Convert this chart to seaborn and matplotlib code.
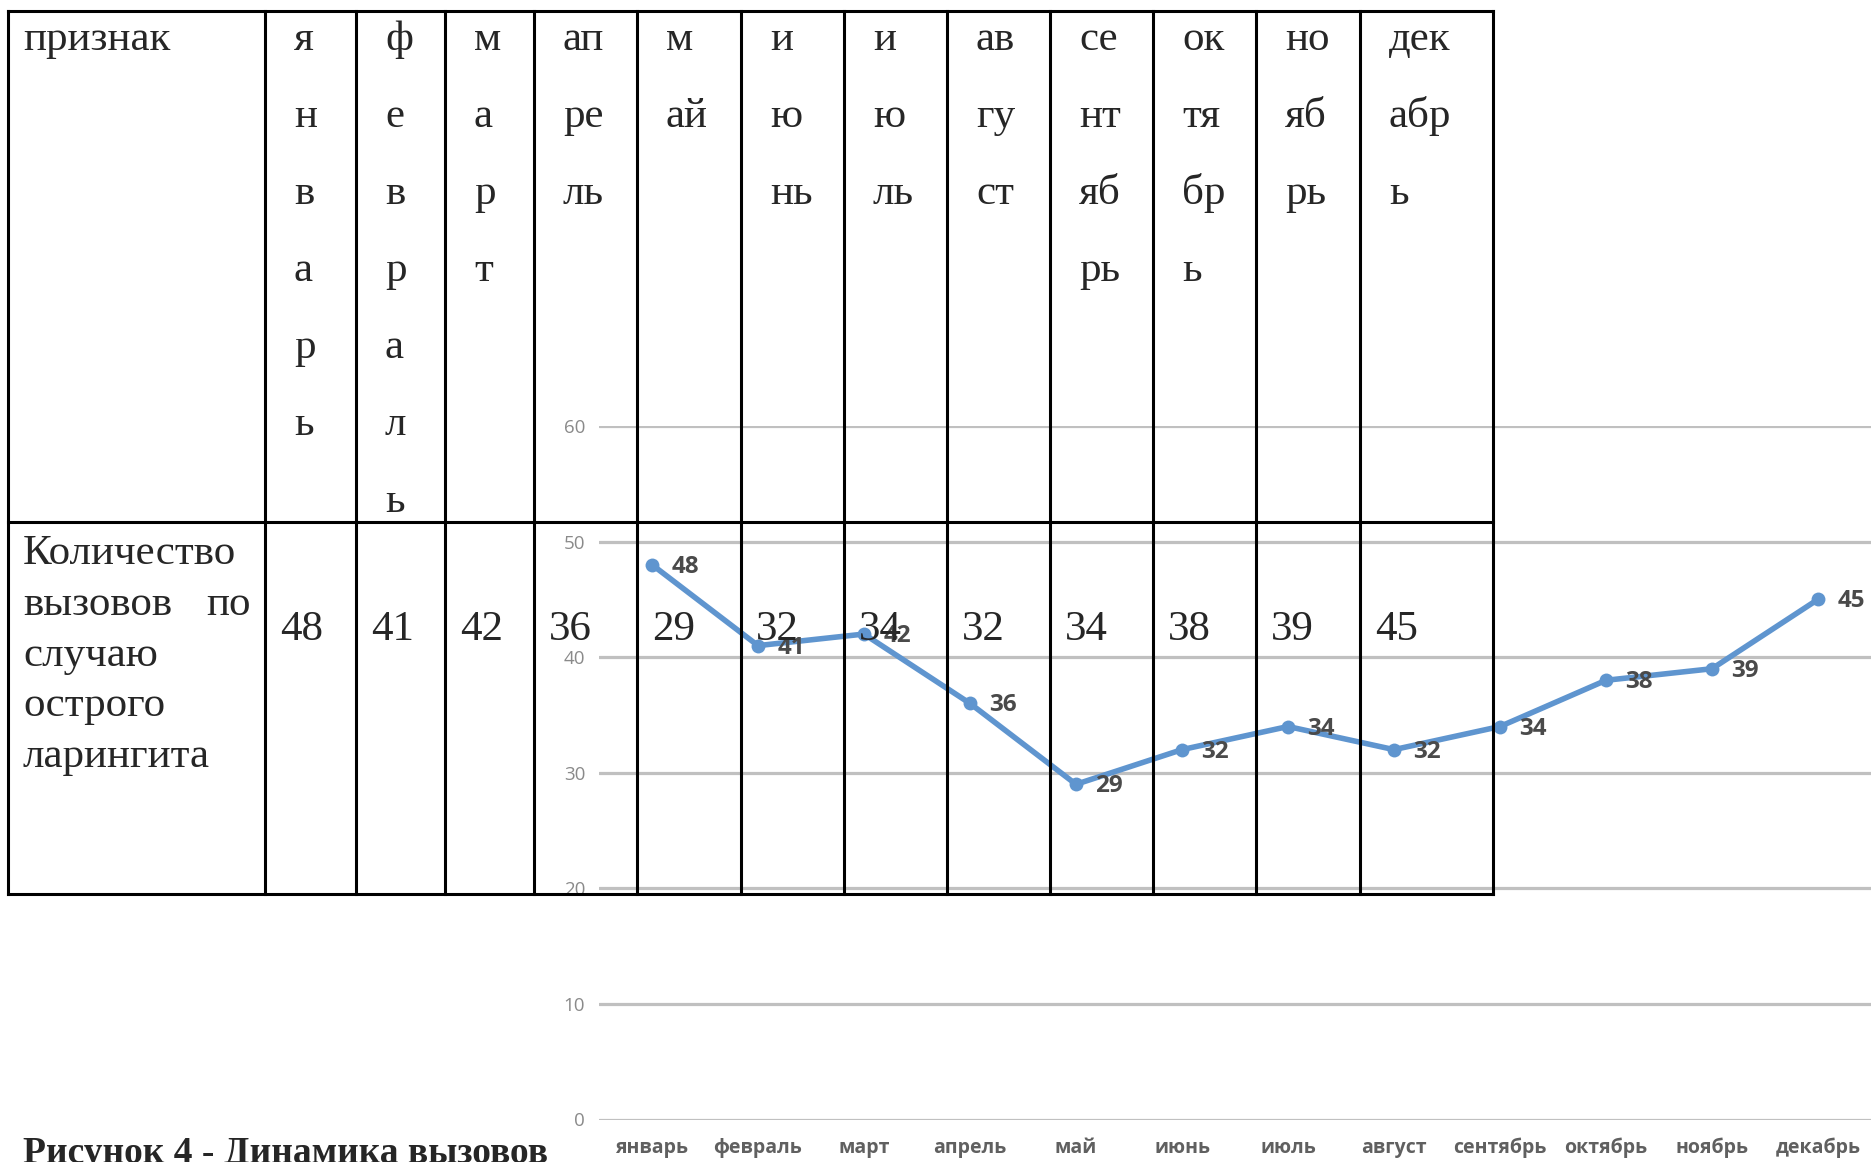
import pandas as pd
import matplotlib.pyplot as plt
import seaborn as sns

# data
months = ['январь', 'февраль', 'март', 'апрель', 'май', 'июнь',
          'июль', 'август', 'сентябрь', 'октябрь', 'ноябрь', 'декабрь']
calls = [48, 41, 42, 36, 29, 32, 34, 32, 34, 38, 39, 45]

# month names as they wrap in the narrow table cells
header_parts = [['я', 'н', 'в', 'а', 'р', 'ь'], ['ф', 'е', 'в', 'р', 'а', 'л', 'ь'],
                ['м', 'а', 'р', 'т'], ['ап', 'ре', 'ль'], ['м', 'ай'], ['и', 'ю', 'нь'],
                ['и', 'ю', 'ль'], ['ав', 'гу', 'ст'], ['се', 'нт', 'яб', 'рь'],
                ['ок', 'тя', 'бр', 'ь'], ['но', 'яб', 'рь'], ['дек', 'абр', 'ь']]
row_label = ['Количество', 'вызовов по', 'случаю', 'острого', 'ларингита']
header_label = 'признак'
caption = 'Рисунок 4 - Динамика вызовов'

df = pd.DataFrame({'month': months, 'calls': calls})

W, H = 1871, 1162
sns.set_style('white')
plt.rcParams['font.family'] = ['Open Sans', 'DejaVu Sans']

fig = plt.figure(figsize=(W / 100, H / 100), dpi=100)

# line chart (Excel style)
ax = fig.add_axes([599 / W, 1 - 1119.5 / H, 1272 / W, (1119.5 - 426) / H])
blue = '#5f95cf'
sns.lineplot(data=df, x='month', y='calls', sort=False, ax=ax, color=blue,
             linewidth=4, marker='o', markersize=10, markeredgewidth=0,
             zorder=3)
for i, v in enumerate(calls):
    ax.annotate(str(v), (i, v), xytext=(14, -1.5), textcoords='offset points',
                ha='left', va='center', fontsize=17.5, fontweight='bold',
                color='#4a4a4a', zorder=4)

ax.set_xlim(-0.5, 11.5)
ax.set_ylim(0, 60)
ax.set_yticks(range(0, 61, 10))
ax.yaxis.grid(True, color='#c0c0c0', linewidth=2.3)
ax.xaxis.grid(False)
ax.set_axisbelow(True)
sns.despine(ax=ax, left=True, bottom=True)
ax.tick_params(axis='both', length=0)
ax.tick_params(axis='y', pad=10, labelsize=13.5, labelcolor='#8a8a8a')
ax.tick_params(axis='x', pad=13, labelsize=14, labelcolor='#606060')
for t in ax.get_xticklabels():
    t.set_fontweight('bold')
ax.set_xlabel('')
ax.set_ylabel('')
ax.patch.set_alpha(0)

# table overlay in pixel coordinates
tab = fig.add_axes([0, 0, 1, 1], zorder=5)
tab.set_xlim(0, W)
tab.set_ylim(H, 0)
tab.axis('off')
tab.patch.set_alpha(0)

col_x = [8, 265, 356, 445, 534, 637, 741, 844, 947, 1050, 1153, 1256, 1360, 1493]
top, mid, bot = 11, 522, 894
for y in (top, mid, bot):
    tab.plot([col_x[0], col_x[-1]], [y, y], color='black', lw=2.2,
             solid_capstyle='projecting')
for x in col_x:
    tab.plot([x, x], [top, bot], color='black', lw=2.2, solid_capstyle='projecting')

serif = 'Liberation Serif'
fs = 31
tab.text(23, 50, header_label, family=serif, fontsize=fs, va='baseline', ha='left')
for j, parts in enumerate(header_parts):
    for k, p in enumerate(parts):
        tab.text(col_x[j + 1] + 29, 50 + 77 * k, p, family=serif, fontsize=fs,
                 va='baseline', ha='left')

for k, line in enumerate(row_label):
    y = 564 + 50.8 * k
    words = line.split(' ')
    if len(words) > 1:
        tab.text(23, y, words[0], family=serif, fontsize=fs, va='baseline', ha='left')
        tab.text(251, y, words[-1], family=serif, fontsize=fs, va='baseline', ha='right')
    else:
        tab.text(23, y, line, family=serif, fontsize=fs, va='baseline', ha='left')

for j, v in enumerate(calls):
    tab.text(col_x[j + 1] + 15, 640, str(v), family=serif, fontsize=fs,
             va='baseline', ha='left')

tab.text(23, 1163, caption, family=serif, fontsize=27, fontweight='bold',
         va='baseline', ha='left')

fig.savefig('out.png', dpi=100)
